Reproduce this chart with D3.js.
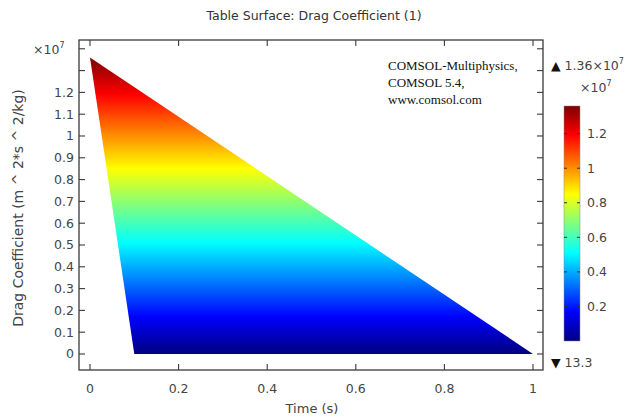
<!DOCTYPE html>
<html>
<head>
<meta charset="utf-8">
<script src="https://cdn.jsdelivr.net/npm/d3@7"></script>
<style>
  html, body { margin: 0; padding: 0; background: #fff; }
  svg { display: block; font-family: "DejaVu Sans", sans-serif; }
</style>
</head>
<body>
<svg id="chart" width="627" height="417"></svg>
<script>
// Table surface vertices: time (s) and drag coefficient (m^2*s^2/kg)
const tableTime = [0, 0.1, 1];
const tableDrag = [1.36e7, 13.3, 13.3];

// Colour range of the surface
const dragMin = 13.3;
const dragMax = 1.36e7;

// Axis ticks (drag axis in units of 1e7)
const xTickValues = [0, 0.2, 0.4, 0.6, 0.8, 1];
const xTickLabels = ["0", "0.2", "0.4", "0.6", "0.8", "1"];
const yTickValues = [0, 0.1, 0.2, 0.3, 0.4, 0.5, 0.6, 0.7, 0.8, 0.9, 1, 1.1, 1.2, 1.3, 1.4];
const yTickLabels = ["0", "0.1", "0.2", "0.3", "0.4", "0.5", "0.6", "0.7", "0.8", "0.9", "1", "1.1", "1.2", "", ""];
const barTickValues = [0.2, 0.4, 0.6, 0.8, 1, 1.2];
const barTickLabels = ["0.2", "0.4", "0.6", "0.8", "1", "1.2"];

// Rainbow (jet-style) colour stops, position 0..1 along the range
const rainbowPos = [0, 0.125, 0.375, 0.5, 0.625, 0.875, 1];
const rainbowCol = ["#00007f", "#0000ff", "#00ffff", "#7fff7f", "#ffff00", "#ff0000", "#7f0000"];

const svg = d3.select("#chart");
const frame = { left: 79, right: 543, top: 40, bottom: 370 };
const axisColor = "#3a3a3a";
const textColor = "#444";

const x = d3.scaleLinear().domain([0, 1]).range([90, 533]);
const y = d3.scaleLinear().domain([0, 1.36e7]).range([354, 57.5]);

// Gradient whose colour follows the drag value along y
const defs = svg.append("defs");
function addGradient(id, yScale) {
  const g = defs.append("linearGradient")
    .attr("id", id)
    .attr("gradientUnits", "userSpaceOnUse")
    .attr("x1", 0).attr("x2", 0)
    .attr("y1", yScale(dragMin)).attr("y2", yScale(dragMax));
  rainbowPos.forEach((p, i) => {
    g.append("stop").attr("offset", p).attr("stop-color", rainbowCol[i]);
  });
}
addGradient("surfaceGrad", y);

// Surface
const pts = tableTime.map((t, i) => [x(t), y(tableDrag[i])]);
svg.append("path")
  .attr("d", d3.line()(pts) + "Z")
  .attr("fill", "url(#surfaceGrad)");

// Frame
svg.append("rect")
  .attr("x", frame.left).attr("y", frame.top)
  .attr("width", frame.right - frame.left)
  .attr("height", frame.bottom - frame.top)
  .attr("fill", "none").attr("stroke", axisColor).attr("stroke-width", 1.3);

// Inward ticks on all four sides
const tickLen = 6;
const ticksG = svg.append("g").attr("stroke", axisColor).attr("stroke-width", 1.1);
xTickValues.forEach(v => {
  ticksG.append("line").attr("x1", x(v)).attr("x2", x(v))
    .attr("y1", frame.bottom).attr("y2", frame.bottom - tickLen);
  ticksG.append("line").attr("x1", x(v)).attr("x2", x(v))
    .attr("y1", frame.top).attr("y2", frame.top + tickLen);
});
yTickValues.forEach(v => {
  const yy = y(v * 1e7);
  ticksG.append("line").attr("x1", frame.left).attr("x2", frame.left + tickLen)
    .attr("y1", yy).attr("y2", yy);
  ticksG.append("line").attr("x1", frame.right).attr("x2", frame.right - tickLen)
    .attr("y1", yy).attr("y2", yy);
});

// Tick labels
const labelG = svg.append("g").attr("fill", textColor).attr("font-size", 12.5);
xTickValues.forEach((v, i) => {
  labelG.append("text").attr("x", x(v)).attr("y", 393)
    .attr("text-anchor", "middle").text(xTickLabels[i]);
});
yTickValues.forEach((v, i) => {
  if (!yTickLabels[i]) return;
  labelG.append("text").attr("x", frame.left - 5).attr("y", y(v * 1e7))
    .attr("dy", "0.35em").attr("text-anchor", "end").text(yTickLabels[i]);
});

// Exponent marker on the drag axis
const expL = labelG.append("text").attr("x", 33).attr("y", 54);
expL.append("tspan").text("×10");
expL.append("tspan").attr("font-size", 8).attr("dy", -6).text("7");

// Titles
svg.append("text").attr("x", 314).attr("y", 20)
  .attr("text-anchor", "middle").attr("font-size", 12.5).attr("fill", "#333")
  .text("Table Surface: Drag Coefficient (1)");
svg.append("text").attr("x", 312).attr("y", 413)
  .attr("text-anchor", "middle").attr("font-size", 13).attr("fill", "#444")
  .text("Time (s)");
svg.append("text")
  .attr("transform", "translate(23,208) rotate(-90)")
  .attr("text-anchor", "middle").attr("font-size", 14).attr("fill", "#444")
  .text("Drag Coefficient (m ^ 2*s ^ 2/kg)");

// Software note
const note = svg.append("g").attr("font-family", "'Liberation Serif', serif")
  .attr("font-size", 13).attr("fill", "#111");
["COMSOL-Multiphysics,", "COMSOL 5.4,", "www.comsol.com"].forEach((s, i) => {
  note.append("text").attr("x", 388).attr("y", 70 + i * 17).text(s);
});

// Colour legend
const bar = { x: 564, w: 16 };
const yb = d3.scaleLinear().domain([0, 1.36e7]).range([341, 106]);
addGradient("barGrad", yb);
svg.append("rect")
  .attr("x", bar.x).attr("y", yb(dragMax))
  .attr("width", bar.w).attr("height", yb(dragMin) - yb(dragMax))
  .attr("fill", "url(#barGrad)")
  .attr("stroke", "#888").attr("stroke-width", 0.5);
barTickValues.forEach((v, i) => {
  const yy = yb(v * 1e7);
  svg.append("line").attr("x1", bar.x).attr("x2", bar.x + 3)
    .attr("y1", yy).attr("y2", yy).attr("stroke", "#333").attr("stroke-width", 1);
  svg.append("line").attr("x1", bar.x + bar.w - 3).attr("x2", bar.x + bar.w)
    .attr("y1", yy).attr("y2", yy).attr("stroke", "#333").attr("stroke-width", 1);
  labelG.append("text").attr("x", bar.x + bar.w + 7).attr("y", yy)
    .attr("dy", "0.35em").text(barTickLabels[i]);
});

// Max / min markers
const maxT = labelG.append("text").attr("x", 551).attr("y", 70);
maxT.append("tspan").attr("fill", "#111").text("▲ ");
maxT.append("tspan").text("1.36×10");
maxT.append("tspan").attr("font-size", 8).attr("dy", -6).text("7");
const expB = labelG.append("text").attr("x", 580).attr("y", 92);
expB.append("tspan").text("×10");
expB.append("tspan").attr("font-size", 8).attr("dy", -6).text("7");
const minT = labelG.append("text").attr("x", 551).attr("y", 367);
minT.append("tspan").attr("fill", "#111").text("▼ ");
minT.append("tspan").text("13.3");
</script>
</body>
</html>
